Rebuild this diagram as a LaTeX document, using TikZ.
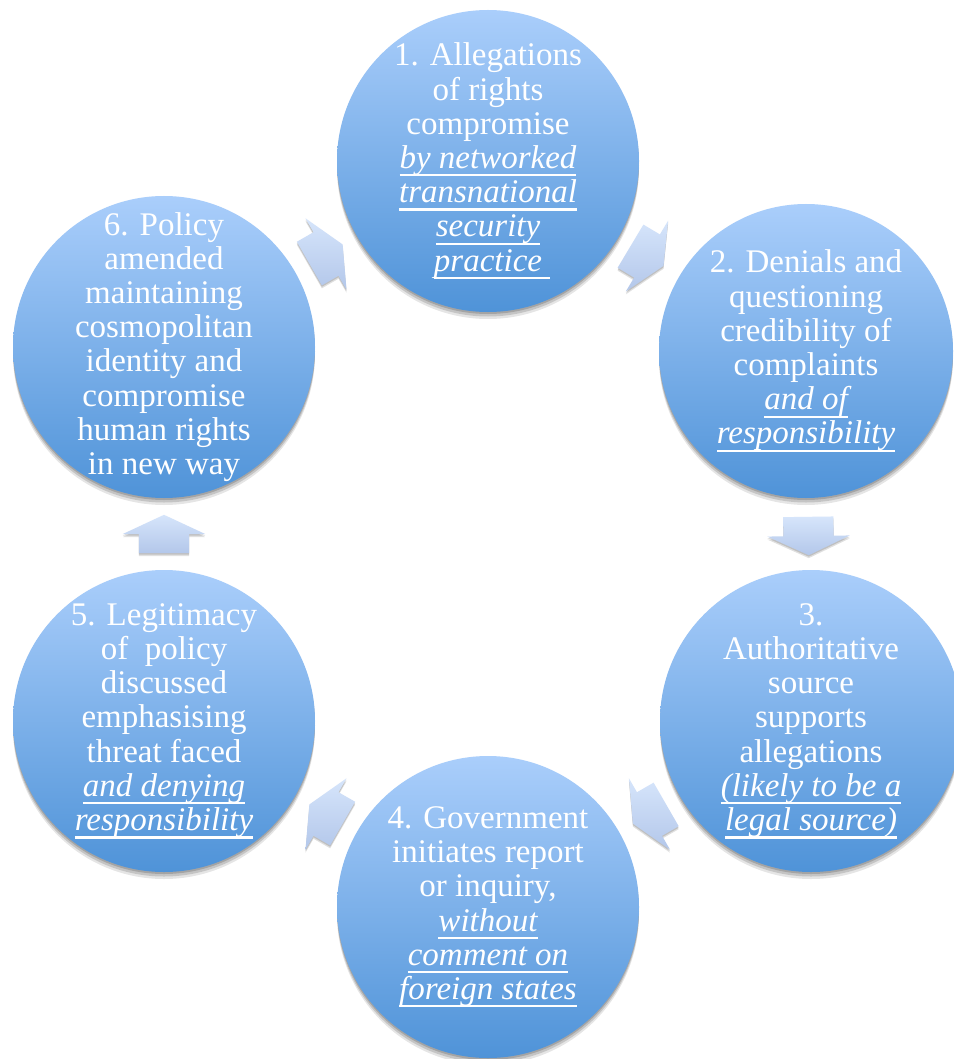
\documentclass[tikz,border=0pt]{standalone}
\usepackage{fontspec}
\setmainfont{Liberation Serif}
\usetikzlibrary{calc,shadows}

\definecolor{bubtop}{HTML}{AACEFB}
\definecolor{bubbot}{HTML}{4F93D8}
\definecolor{arrtop}{HTML}{D6E5FB}
\definecolor{arrbot}{HTML}{B3C7EA}

% italic words with a fixed-depth white underline
\newlength\ulw
\newcommand\ulit[1]{\settowidth\ulw{\itshape #1}\rlap{\rule[-8pt]{\ulw}{2.2pt}}{\itshape #1}}

\tikzset{
  bubble/.style={circle, minimum size=#1, inner sep=0pt,
    top color=bubtop, bottom color=bubbot,
    drop shadow={shadow xshift=0pt, shadow yshift=-7pt, opacity=0.10, fill=black},
    drop shadow={shadow xshift=0pt, shadow yshift=-4.5pt, opacity=0.14, fill=black},
    drop shadow={shadow xshift=0pt, shadow yshift=-2pt, opacity=0.16, fill=black}},
  bubble/.default=302pt,
  bubtext/.style={text=white, align=center, inner sep=0pt,
    font=\fontsize{33}{34.2}\selectfont},
  arrowbox/.style={rectangle, minimum width=38pt, minimum height=82pt,
    inner sep=0pt, sloped, allow upside down},
  arrowfill/.style={top color=arrtop, bottom color=arrbot,
    drop shadow={shadow xshift=0pt, shadow yshift=-3pt, opacity=0.12, fill=black},
    drop shadow={shadow xshift=0pt, shadow yshift=-1.5pt, opacity=0.14, fill=black}}
}

% short block arrow halfway between two named circles, pointing from #1 to #2
\newcommand\cyclearrow[3]{%
  \path (#1.center) -- node[arrowbox] (#3) {} (#2.center);
  \path[arrowfill]
    ($(#3.west)!0.61!(#3.north west)$) -- ($(#3.center)!0.61!(#3.north)$)
    -- (#3.north) -- (#3.east) -- (#3.south)
    -- ($(#3.center)!0.61!(#3.south)$) -- ($(#3.west)!0.61!(#3.south west)$)
    -- cycle;
}

\begin{document}
\begin{tikzpicture}[x=1pt, y=-1pt]
  \fill[white] (0,0) rectangle (953,1059);
  \useasboundingbox (0,0) rectangle (953,1059);

  \node[bubble]        (c1) at (488,161) {};
  \node[bubble=294pt]  (c2) at (806,351) {};
  \node[bubble]        (c3) at (811,721) {};
  \node[bubble]        (c4) at (488,907) {};
  \node[bubble]        (c5) at (164,721) {};
  \node[bubble]        (c6) at (164,347) {};

  \cyclearrow{c1}{c2}{a12}
  \cyclearrow{c2}{c3}{a23}
  \cyclearrow{c3}{c4}{a34}
  \cyclearrow{c4}{c5}{a45}
  \cyclearrow{c5}{c6}{a56}
  \cyclearrow{c6}{c1}{a61}

  \node[bubtext] (t1) at (c1) {1. Allegations\\of rights\\compromise\\
    \ulit{by networked}\\\ulit{transnational}\\\ulit{security}\\\ulit{practice\ }};
  \node[bubtext] (t2) at (c2) {2. Denials and\\questioning\\credibility of\\complaints\\
    \ulit{and of}\\\ulit{responsibility}};
  \node[bubtext] (t3) at (c3) {3.\\Authoritative\\source\\supports\\allegations\\
    \ulit{(likely to be a}\\\ulit{legal source)}};
  \node[bubtext] (t4) at (c4) {4. Government\\initiates report\\or inquiry,\\
    \ulit{without}\\\ulit{comment on}\\\ulit{foreign states}};
  \node[bubtext] (t5) at (c5) {5. Legitimacy\\of\ \ policy\\discussed\\emphasising\\threat faced\\
    \ulit{and denying}\\\ulit{responsibility}};
  \node[bubtext] (t6) at (c6) {6. Policy\\amended\\maintaining\\cosmopolitan\\identity and\\
    compromise\\human rights\\in new way};
\end{tikzpicture}
\end{document}
